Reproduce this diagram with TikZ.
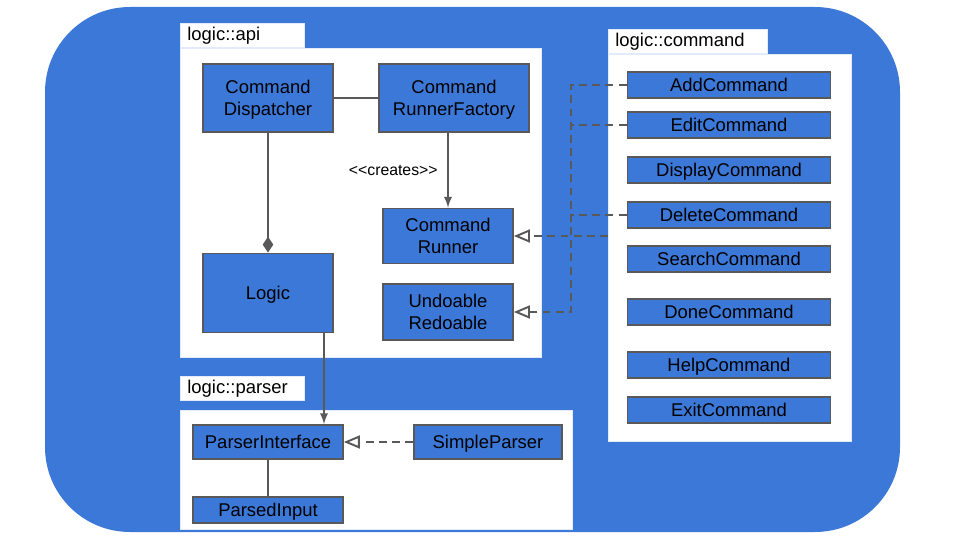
\documentclass[tikz,border=0pt]{standalone}
\usepackage{fontspec}
\setmainfont{Liberation Sans}
\usetikzlibrary{shapes, calc, arrows, arrows.meta, positioning}

\definecolor{umlblue}{HTML}{3C78D8}
\definecolor{umlgray}{HTML}{595959}

\tikzset{
  cls/.style={draw=umlgray, fill=umlblue, line width=1.1pt, align=center,
    inner sep=0pt, text depth=0pt, font=\fontsize{10.5}{12.6}\selectfont},
  pkg/.style={fill=white, draw=white!85!umlblue, line width=0.4pt, inner sep=0pt},
  pkglabel/.style={pkg, anchor=north west, text width=#1, inner xsep=4pt,
    minimum height=0.48cm, font=\fontsize{10.5}{12.6}\selectfont},
  link/.style={draw=umlgray, line width=1.1pt},
  impl/.style={link, dashed, dash pattern=on 4.5pt off 3pt, -open triangle 45}
}

\begin{document}
\begin{tikzpicture}[>=latex, x=0.02cm, y=-0.02cm]
    \useasboundingbox (0,0) rectangle (960,540);
    \fill[umlblue, rounded corners=1.7cm] (45,7) rectangle (900,532);

    % packages
    \node[pkglabel=2.2cm] (apilbl) at (180,23) {logic::api};
    \node[pkg, anchor=north west, minimum width=7.22cm, minimum height=6.18cm] (api) at (180,48) {};
    \node[pkglabel=2.9cm] (cmdlbl) at (608,29) {logic::command};
    \node[pkg, anchor=north west, minimum width=4.86cm, minimum height=7.74cm] (cmd) at (608,54) {};
    \node[pkglabel=2.2cm] (parlbl) at (180,376) {logic::parser};
    \node[pkg, anchor=north west, minimum width=7.84cm, minimum height=2.38cm] (par) at (180,410) {};

    % logic::api
    \node[cls, minimum width=2.6cm, minimum height=1.36cm] (dispatcher) at (268,98) {Command\\Dispatcher};
    \node[cls, minimum width=3.0cm, minimum height=1.36cm] (factory) at (454,98) {Command\\RunnerFactory};
    \node[cls, minimum width=2.6cm, minimum height=1.1cm] (runner) at (448,236) {Command\\Runner};
    \node[cls, minimum width=2.6cm, minimum height=1.12cm] (undo) at (448,312) {Undoable\\Redoable};
    \node[cls, minimum width=2.6cm, minimum height=1.58cm] (logic) at (268,293) {Logic};

    % logic::command
    \node[cls, minimum width=4.06cm, minimum height=0.53cm] (add) at (729,85) {AddCommand};
    \node[cls, minimum width=4.06cm, minimum height=0.53cm] (edit) at (729,125) {EditCommand};
    \node[cls, minimum width=4.06cm, minimum height=0.53cm] (display) at (729,170) {DisplayCommand};
    \node[cls, minimum width=4.06cm, minimum height=0.53cm] (delete) at (729,215) {DeleteCommand};
    \node[cls, minimum width=4.06cm, minimum height=0.53cm] (search) at (729,259) {SearchCommand};
    \node[cls, minimum width=4.06cm, minimum height=0.53cm] (done) at (729,312) {DoneCommand};
    \node[cls, minimum width=4.06cm, minimum height=0.53cm] (help) at (729,365) {HelpCommand};
    \node[cls, minimum width=4.06cm, minimum height=0.53cm] (exit) at (729,410) {ExitCommand};

    % logic::parser
    \node[cls, minimum width=3.0cm, minimum height=0.68cm] (pinterface) at (268,442) {ParserInterface};
    \node[cls, minimum width=2.96cm, minimum height=0.68cm] (simple) at (488,442) {SimpleParser};
    \node[cls, minimum width=3.0cm, minimum height=0.52cm] (parsed) at (268,510) {ParsedInput};

    % connectors
    \coordinate (bend) at (571,312);
    \draw[link] (dispatcher) -- (factory);
    \draw[link, -{Diamond[length=9pt, width=6pt]}] (dispatcher) -- (logic);
    \draw[link, ->] (factory.south -| runner.north) -- (runner.north)
        node[midway, left=2pt, font=\fontsize{9}{10}\selectfont] {{<}{<}creates{>}{>}};
    \draw[link, ->] ([xshift=1.12cm]logic.south) -- ([xshift=1.12cm]pinterface.north);
    \draw[link] (pinterface) -- (parsed);
    \draw[impl] (simple) -- (pinterface);

    \draw[impl] (add.west) -| (bend) -- (undo.east);
    \draw[impl, -] (edit.west) -- (edit.west -| bend);
    \draw[impl, -] (delete.west) -- (delete.west -| bend);
    \draw[impl] (cmd.west |- runner.east) -- (runner.east);
\end{tikzpicture}
\end{document}
